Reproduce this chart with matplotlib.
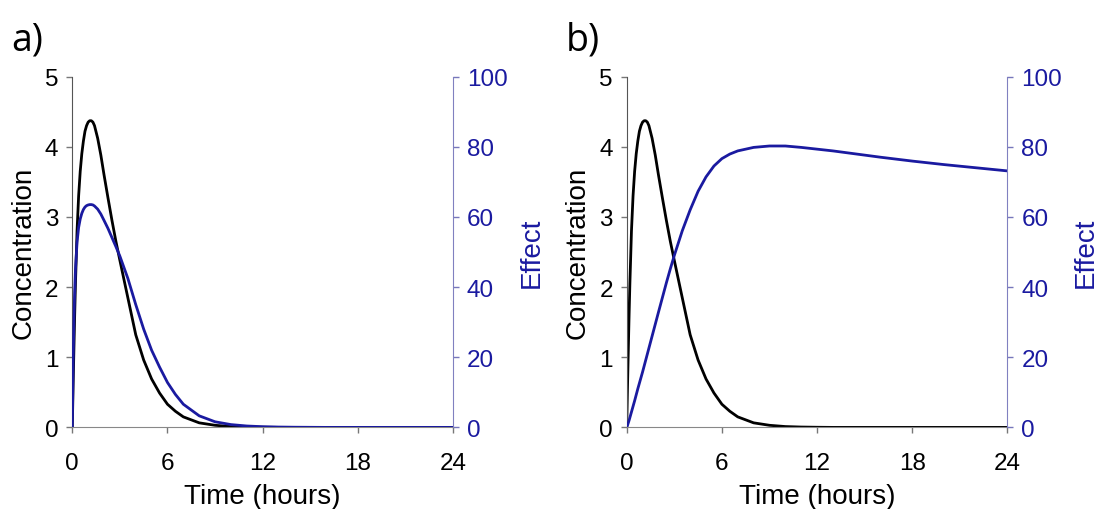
import matplotlib
matplotlib.use('Agg')
import matplotlib.pyplot as plt

plt.rcParams['font.family'] = ['Liberation Sans', 'DejaVu Sans']

# time points (hours)
time = [0, 0.05, 0.1, 0.15, 0.2, 0.3, 0.4, 0.5, 0.6, 0.7, 0.8, 0.9, 1.0, 1.1,
        1.2, 1.3, 1.4, 1.6, 1.8, 2.0, 2.25, 2.5, 2.75, 3.0, 3.5, 4.0, 4.5,
        5.0, 5.5, 6.0, 6.5, 7.0, 8.0, 9.0, 10, 11, 12, 13, 14, 16, 18, 20,
        22, 24]

# plasma concentration (same curve in both panels)
concentration = [0, 0.58, 1.1, 1.6, 2.05, 2.8, 3.3, 3.65, 3.9, 4.08, 4.22,
                 4.3, 4.35, 4.37, 4.37, 4.35, 4.3, 4.12, 3.88, 3.6, 3.27, 2.95,
                 2.65, 2.38, 1.85, 1.32, 0.96, 0.69, 0.49, 0.33, 0.23, 0.15,
                 0.065, 0.03, 0.012, 0.005, 0.002, 0, 0, 0, 0, 0, 0, 0]

# panel a: direct effect
effect_a = [0, 18, 30, 38.5, 45, 52.8, 57, 59.4, 61, 62.1, 62.8, 63.2, 63.4,
            63.5, 63.5, 63.4, 63.1, 62.2, 60.8, 59, 56.7, 54.1, 51.5, 48.8,
            42.5, 35, 28, 22, 17.2, 12.8, 9.4, 6.6, 3.3, 1.6, 0.8, 0.4, 0.2,
            0.1, 0.05, 0, 0, 0, 0, 0]

# panel b: delayed effect
effect_b = [0, 0.6, 1.3, 2.0, 2.8, 4.4, 6.0, 7.6, 9.3, 11.0, 12.6, 14.2, 15.8,
            17.5, 19.2, 20.9, 22.6, 26.0, 29.4, 32.8, 37.0, 41.2, 45.2, 49.0,
            56.0, 62.0, 67.3, 71.4, 74.5, 76.6, 77.9, 78.8, 79.8, 80.2, 80.2,
            79.8, 79.3, 78.8, 78.2, 77.0, 75.9, 74.9, 74.0, 73.1]

x_ticks = [0, 6, 12, 18, 24]
conc_ticks = [0, 1, 2, 3, 4, 5]
effect_ticks = [0, 20, 40, 60, 80, 100]

BLUE = '#1a1aa0'
fig = plt.figure(figsize=(11.02, 5.10), dpi=100)

panels = [('a)', effect_a, 0.0656), ('b)', effect_b, 0.5687)]
for letter, effect, left in panels:
    ax = fig.add_axes([left, 0.160, 0.3455, 0.688])
    ax.plot(time, concentration, color='black', lw=2)
    ax.set_xlim(0, 24)
    ax.set_ylim(0, 5)
    ax.set_xticks(x_ticks)
    ax.set_yticks(conc_ticks)
    ax.set_xlabel('Time (hours)', fontsize=20, labelpad=6)
    ax.set_ylabel('Concentration', fontsize=20, labelpad=6)
    ax.tick_params(axis='both', labelsize=17.5, length=4, width=1,
                   color='#777777', direction='out')
    ax.tick_params(axis='x', pad=14)
    ax.tick_params(axis='y', pad=6)
    for side in ['top', 'right']:
        ax.spines[side].set_visible(False)
    ax.spines['left'].set_color('#555555')
    ax.spines['bottom'].set_color('#888888')

    ax2 = ax.twinx()
    ax2.plot(time, effect, color=BLUE, lw=2)
    ax2.set_ylim(0, 100)
    ax2.set_yticks(effect_ticks)
    ax2.set_ylabel('Effect', fontsize=20, color=BLUE, labelpad=8)
    ax2.tick_params(axis='y', labelsize=17.5, length=4, width=1,
                    color='#7777bb', labelcolor=BLUE, pad=6)
    for side in ['top', 'left', 'bottom']:
        ax2.spines[side].set_visible(False)
    ax2.spines['right'].set_color('#8080c0')

    fig.text(left - 0.055, 0.9, letter, fontsize=27, family='Open Sans')

fig.savefig('out.png', dpi=100)
